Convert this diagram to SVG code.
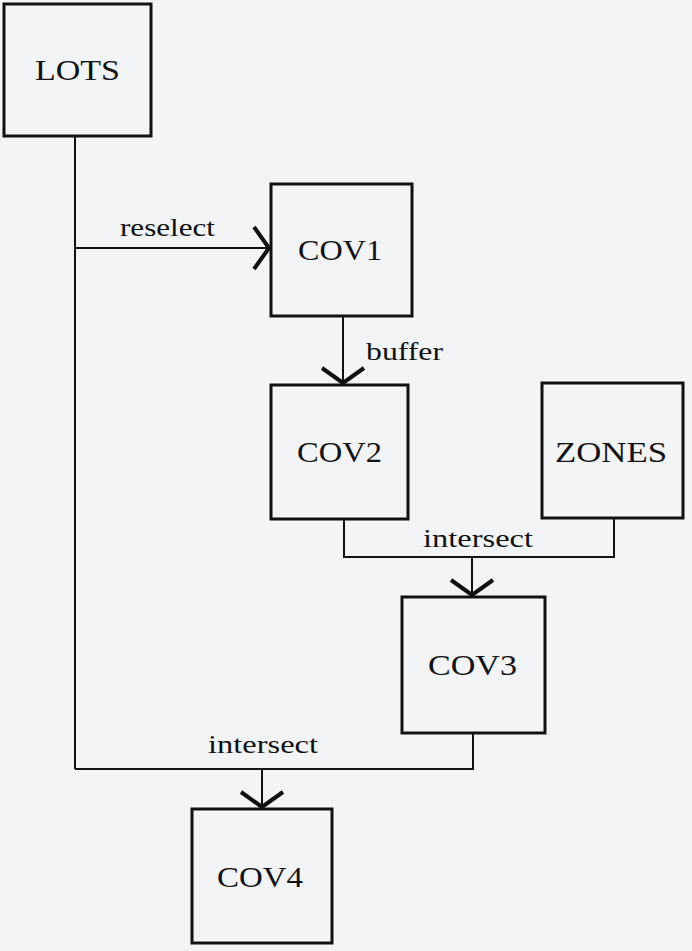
<svg xmlns="http://www.w3.org/2000/svg" width="692" height="951" viewBox="0 0 692 951">
  <style>
    .box { fill: none; stroke: #111; stroke-width: 3; }
    .lbl { font-family: "Liberation Serif", "DejaVu Serif", serif; font-size: 30px; fill: #111; lengthAdjust: spacingAndGlyphs; }
    .op { font-family: "Liberation Serif", "DejaVu Serif", serif; font-size: 25px; fill: #111; }
    .conn { fill: none; stroke: #111; stroke-width: 2; }
  </style>
  <defs>
    <marker id="arr" markerUnits="userSpaceOnUse" markerWidth="40" markerHeight="50" refX="0" refY="0" orient="auto" viewBox="-20 -25 40 50" overflow="visible">
      <path d="M-15,-21 L0,0 L-15,21" fill="none" stroke="#111" stroke-width="4" stroke-linejoin="miter"/>
    </marker>
  </defs>
  <rect x="0" y="0" width="692" height="951" fill="#f3f4f6"/>

  <g id="connectors">
    <path class="conn" d="M75,136 V769"/>
    <path class="conn" d="M75,248 H269" marker-end="url(#arr)"/>
    <path class="conn" d="M343,317 V383" marker-end="url(#arr)"/>
    <path class="conn" d="M344,519 V557 H614 V518"/>
    <path class="conn" d="M472,557 V595" marker-end="url(#arr)"/>
    <path class="conn" d="M473,733 V769 H75"/>
    <path class="conn" d="M262,769 V807" marker-end="url(#arr)"/>
    <text class="op" x="120" y="236" textLength="95" lengthAdjust="spacingAndGlyphs">reselect</text>
    <text class="op" x="366" y="360" textLength="77" lengthAdjust="spacingAndGlyphs">buffer</text>
    <text class="op" x="423" y="547" textLength="110" lengthAdjust="spacingAndGlyphs">intersect</text>
    <text class="op" x="208" y="753" textLength="110" lengthAdjust="spacingAndGlyphs">intersect</text>
  </g>

  <g id="LOTS">
    <rect class="box" x="4" y="4" width="147" height="132"/>
    <text class="lbl" x="35" y="80" textLength="85" lengthAdjust="spacingAndGlyphs">LOTS</text>
  </g>
  <g id="COV1">
    <rect class="box" x="271" y="184" width="141" height="132"/>
    <text class="lbl" x="298" y="260" textLength="84" lengthAdjust="spacingAndGlyphs">COV1</text>
  </g>
  <g id="COV2">
    <rect class="box" x="271" y="385" width="137" height="134"/>
    <text class="lbl" x="297" y="462" textLength="85" lengthAdjust="spacingAndGlyphs">COV2</text>
  </g>
  <g id="ZONES">
    <rect class="box" x="542" y="383" width="141" height="135"/>
    <text class="lbl" x="555" y="462" textLength="112" lengthAdjust="spacingAndGlyphs">ZONES</text>
  </g>
  <g id="COV3">
    <rect class="box" x="402" y="597" width="143" height="136"/>
    <text class="lbl" x="428" y="675" textLength="89" lengthAdjust="spacingAndGlyphs">COV3</text>
  </g>
  <g id="COV4">
    <rect class="box" x="192" y="809" width="140" height="134"/>
    <text class="lbl" x="217" y="887" textLength="86" lengthAdjust="spacingAndGlyphs">COV4</text>
  </g>
</svg>
